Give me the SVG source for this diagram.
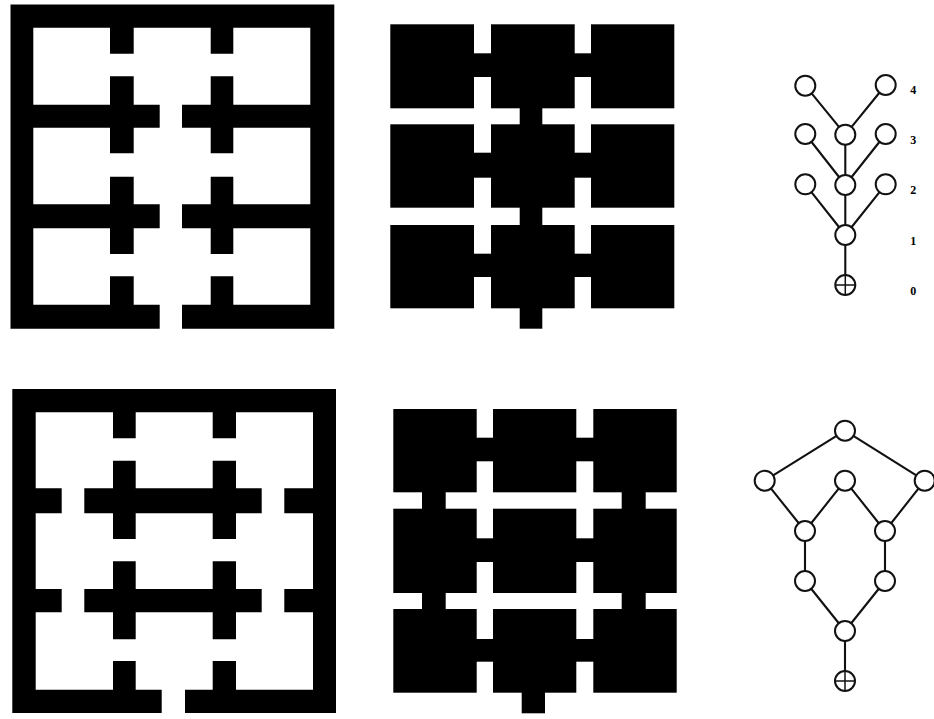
<svg xmlns="http://www.w3.org/2000/svg" width="934" height="719" viewBox="0 0 934 719">
<style>
.blk{fill:#000;stroke:none}
.n{fill:#fff;stroke:#111;stroke-width:2}
.e{fill:none;stroke:#111;stroke-width:2.1}
.p{fill:none;stroke:#111;stroke-width:1.5}
.l{font-family:"Liberation Serif",serif;font-weight:bold;font-size:12px;fill:#000;text-anchor:middle}
</style>
<rect width="934" height="719" fill="#fff"/>
<g id="plan-top-walls">
<path class="blk" fill-rule="evenodd" d="M10.5 4.5H334.3V328.7H182V304.8H210.7V276.3H233.3V304.8H310.3V228.3H233.3V254H210.7V228.3H182V204.3H210.7V176.7H233.3V204.3H310.3V127.7H233.3V153.3H210.7V127.7H182V104.7H210.7V76.3H233.3V104.7H310.3V27.7H233.3V53.7H210.7V27.7H133.7V53.7H110V27.7H33.3V104.7H110V76.3H133.7V104.7H159.7V127.7H133.7V153.3H110V127.7H33.3V204.3H110V176.7H133.7V204.3H159.7V228.3H133.7V254H110V228.3H33.3V304.8H110V276.3H133.7V304.8H159.7V328.7H10.5Z"/>
</g>
<g id="plan-top-blocks">
<rect class="blk" x="390.3" y="24.3" width="83.7" height="84"/>
<rect class="blk" x="491" y="24.3" width="83.7" height="84"/>
<rect class="blk" x="591" y="24.3" width="83.3" height="84"/>
<rect class="blk" x="390.3" y="124.3" width="83.7" height="83.4"/>
<rect class="blk" x="491" y="124.3" width="83.7" height="83.4"/>
<rect class="blk" x="591" y="124.3" width="83.3" height="83.4"/>
<rect class="blk" x="390.3" y="225" width="83.7" height="83.3"/>
<rect class="blk" x="491" y="225" width="83.7" height="83.3"/>
<rect class="blk" x="591" y="225" width="83.3" height="83.3"/>
<rect class="blk" x="473" y="53.3" width="119" height="23.7"/>
<rect class="blk" x="473" y="152.7" width="119" height="25"/>
<rect class="blk" x="473" y="253.7" width="119" height="23.3"/>
<rect class="blk" x="519.7" y="107" width="22.6" height="19"/>
<rect class="blk" x="519.7" y="206.7" width="22.6" height="19"/>
<rect class="blk" x="519.7" y="307" width="22.6" height="21.7"/>
</g>
<g id="plan-bottom-walls">
<path class="blk" fill-rule="evenodd" d="M12.3 389H336V713H185V689.7H212.7V661H236V689.7H313V612.3H284.3V589H313V513.3H284.3V488.3H313V412.3H236V438.3H212.7V412.3H135.7V438.3H113V412.3H35.7V488.3H61.7V513.3H35.7V589H61.7V612.3H35.7V689.7H113V661H135.7V689.7H161.7V713H12.3Z"/>
<path class="blk" d="M84.3 488.3H113V460.7H135.7V488.3H212.7V460.7H236V488.3H261.7V513.3H236V539H212.7V513.3H135.7V539H113V513.3H84.3Z"/>
<path class="blk" d="M84.3 589H113V561.3H135.7V589H212.7V561.3H236V589H261.7V612.3H236V639.3H212.7V612.3H135.7V639.3H113V612.3H84.3Z"/>
</g>
<g id="plan-bottom-blocks">
<rect class="blk" x="393.3" y="409" width="83.4" height="83.3"/>
<rect class="blk" x="493" y="409" width="83.3" height="83.3"/>
<rect class="blk" x="593.3" y="409" width="83.4" height="83.3"/>
<rect class="blk" x="393.3" y="508.7" width="83.4" height="84.3"/>
<rect class="blk" x="493" y="508.7" width="83.3" height="84.3"/>
<rect class="blk" x="593.3" y="508.7" width="83.4" height="84.3"/>
<rect class="blk" x="393.3" y="609" width="83.4" height="83.7"/>
<rect class="blk" x="493" y="609" width="83.3" height="83.7"/>
<rect class="blk" x="593.3" y="609" width="83.4" height="83.7"/>
<rect class="blk" x="476" y="437.7" width="118" height="23.6"/>
<rect class="blk" x="476" y="538.3" width="118" height="23.7"/>
<rect class="blk" x="476" y="639" width="118" height="22.7"/>
<rect class="blk" x="422" y="491" width="23.7" height="19"/>
<rect class="blk" x="621.7" y="491" width="24" height="19"/>
<rect class="blk" x="422" y="592" width="23.7" height="18"/>
<rect class="blk" x="621.7" y="592" width="24" height="18"/>
<rect class="blk" x="521.7" y="691" width="23.3" height="22.3"/>
</g>
<g id="connectors">
<path class="e" d="M805.3 85.7L845.3 134.7M885.7 85L845.3 134.7M805.3 134L845.3 185M885.7 134L845.3 185M845.3 134.7V185M805.3 184.3L845.3 235M885.7 184.3L845.3 235M845.3 185V235M845.3 235V285"/>
<path class="e" d="M845 430.7L764.7 480.7M845 430.7L924.7 480.7M764.7 480.7L805 531M845 480.7L805 531M845 480.7L885 531M924.7 480.7L885 531M805 531V581M885 531V581M805 581L845 631M885 581L845 631M845 631V681"/>
</g>
<g id="t1"><circle class="n" cx="805.3" cy="85.7" r="10"/></g>
<g id="t2"><circle class="n" cx="885.7" cy="85" r="10"/></g>
<g id="t3"><circle class="n" cx="805.3" cy="134" r="10"/></g>
<g id="t4"><circle class="n" cx="845.3" cy="134.7" r="10"/></g>
<g id="t5"><circle class="n" cx="885.7" cy="134" r="10"/></g>
<g id="t6"><circle class="n" cx="805.3" cy="184.3" r="10"/></g>
<g id="t7"><circle class="n" cx="845.3" cy="185" r="10"/></g>
<g id="t8"><circle class="n" cx="885.7" cy="184.3" r="10"/></g>
<g id="t9"><circle class="n" cx="845.3" cy="235" r="10"/></g>
<g id="t10"><circle class="n" cx="845.3" cy="285" r="10"/><path class="p" d="M835.3 285H855.3M845.3 275V295"/></g>
<g id="levels">
<text class="l" x="913.3" y="94">4</text>
<text class="l" x="913.3" y="144">3</text>
<text class="l" x="913.3" y="194">2</text>
<text class="l" x="913.3" y="245">1</text>
<text class="l" x="913.3" y="295">0</text>
</g>
<g id="b1"><circle class="n" cx="845" cy="430.7" r="10"/></g>
<g id="b2"><circle class="n" cx="764.7" cy="480.7" r="10"/></g>
<g id="b3"><circle class="n" cx="845" cy="480.7" r="10"/></g>
<g id="b4"><circle class="n" cx="924.7" cy="480.7" r="10"/></g>
<g id="b5"><circle class="n" cx="805" cy="531" r="10"/></g>
<g id="b6"><circle class="n" cx="885" cy="531" r="10"/></g>
<g id="b7"><circle class="n" cx="805" cy="581" r="10"/></g>
<g id="b8"><circle class="n" cx="885" cy="581" r="10"/></g>
<g id="b9"><circle class="n" cx="845" cy="631" r="10"/></g>
<g id="b10"><circle class="n" cx="845" cy="681" r="10"/><path class="p" d="M835 681H855M845 671V691"/></g>
</svg>
